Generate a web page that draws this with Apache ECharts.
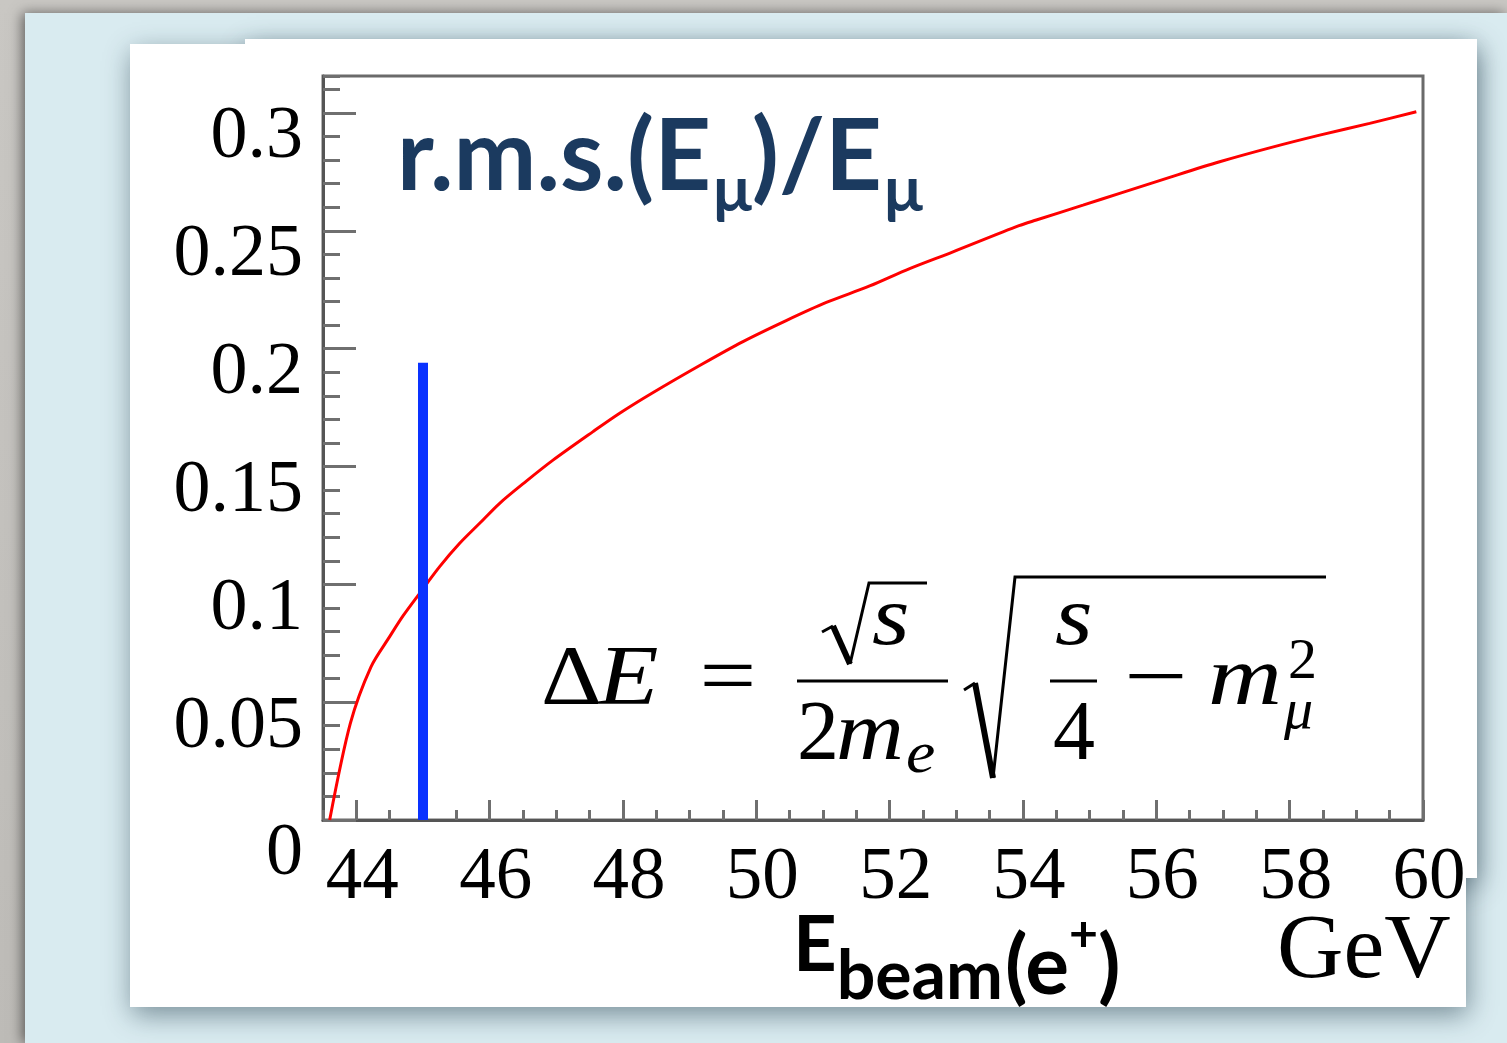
<!DOCTYPE html>
<html>
<head>
<meta charset="utf-8">
<title>r.m.s.(Eμ)/Eμ vs beam energy</title>
<script src="https://cdn.jsdelivr.net/npm/echarts@6/dist/echarts.min.js"></script>
<style>
  html, body { margin: 0; padding: 0; background: #c3c1bd; }
  #chart { width: 1507px; height: 1043px; }
</style>
</head>
<body>
<div id="chart"></div>
<script>
// Positron beam energy (GeV) and relative muon-energy spread
const beamEnergy = [43.6, 43.91, 44.22, 44.5, 44.7, 44.95, 45.25, 45.55, 45.85, 46.15,
  46.55, 46.95, 47.55, 47.95, 48.44, 49.19, 49.8, 50.44,
  51.05, 51.7, 52.3, 52.95, 53.94, 54.2, 54.9, 55.45, 56.2, 56.95,
  57.7, 58.45, 59.2, 59.9];
const rmsRatio = [0, 0.041, 0.065, 0.0778, 0.0866, 0.0962, 0.1075, 0.1174, 0.1259, 0.1344,
  0.1438, 0.1527, 0.1648, 0.1726, 0.1812, 0.1935, 0.203, 0.2118,
  0.2196, 0.2266, 0.234, 0.2411, 0.2522, 0.2546, 0.2609, 0.2659, 0.2727, 0.2793,
  0.2852, 0.2906, 0.2956, 0.3005];

// Working point marker (45 GeV)
const markerEnergy = [45, 45];
const markerRms = [0, 0.194];

// Axis ranges and tick labels
const xRange = [43.5, 60];
const yRange = [0, 0.3157];
const xMajorTicks = [44, 46, 48, 50, 52, 54, 56, 58, 60];
const xTickLabels = ['44', '46', '48', '50', '52', '54', '56', '58', '60'];
const yMajorTicks = [0, 0.05, 0.1, 0.15, 0.2, 0.25, 0.3];
const yTickLabels = ['0', '0.05', '0.1', '0.15', '0.2', '0.25', '0.3'];

const serif = '"Liberation Serif", "DejaVu Serif", serif';
const sans = 'Lato, "Open Sans", sans-serif';
const navy = '#1b3a5f';

function labelFor(ticks, labels, v) {
  for (let i = 0; i < ticks.length; i++) {
    if (Math.abs(ticks[i] - v) < 1e-9) return labels[i];
  }
  return '';
}

const measureCtx = document.createElement('canvas').getContext('2d');
function fontOf(o) {
  return (o.italic ? 'italic ' : '') + (o.bold ? 'bold ' : '') + o.size + 'px ' + (o.family || serif);
}
function textWidth(o) {
  measureCtx.font = fontOf(o);
  return measureCtx.measureText(o.text).width * (o.sx || 1);
}

// Text placed by its alphabetic baseline
function txt(text, x, baseline, size, opt) {
  opt = Object.assign({}, opt || {});
  opt.size = size;
  const mid = opt.mid != null ? opt.mid : 0.27;
  const y = baseline - mid * size;
  const el = {
    type: 'text', z: 100, silent: true,
    style: {
      text: text, x: x, y: y,
      font: fontOf(opt),
      fill: opt.color || '#000',
      align: opt.align || 'left', verticalAlign: 'middle',
      textAlign: opt.align || 'left', textVerticalAlign: 'middle'
    }
  };
  if (opt.sx) { el.scaleX = opt.sx; el.originX = x; el.originY = y; }
  return el;
}
// A run of text pieces laid out left to right, each on its own baseline
function row(x0, pieces) {
  let x = x0;
  return pieces.map(function (p) {
    const el = txt(p.text, x, p.baseline, p.size, p);
    x += textWidth(p) + (p.gap || 0);
    return el;
  });
}
function bar(x1, x2, y, w) {
  return { type: 'rect', z: 100, silent: true, shape: { x: x1, y: y - w / 2, width: x2 - x1, height: w }, style: { fill: '#000' } };
}
function stroke(points, w) {
  return { type: 'polyline', z: 100, silent: true, shape: { points: points }, style: { stroke: '#000', lineWidth: w, fill: null, lineJoin: 'miter' } };
}
function panel(x, y, w, h, shadow) {
  const st = { fill: '#ffffff' };
  if (shadow) {
    st.shadowBlur = 26; st.shadowColor = 'rgba(40,65,80,0.55)';
    st.shadowOffsetX = 2; st.shadowOffsetY = 8;
  }
  return { type: 'rect', z: shadow ? -90 : -85, silent: true, shape: { x: x, y: y, width: w, height: h }, style: st };
}

const graphics = [
  // backdrop
  { type: 'rect', z: -100, silent: true, shape: { x: 0, y: 0, width: 1507, height: 1043 },
    style: { fill: new echarts.graphic.LinearGradient(0, 0, 0, 1, [
      { offset: 0, color: '#c9c7c3' }, { offset: 1, color: '#bdbbb7' }]) } },
  { type: 'rect', z: -95, silent: true, shape: { x: 25, y: 13, width: 1482, height: 1030 },
    style: { fill: '#d9ebf0', shadowBlur: 12, shadowColor: 'rgba(0,0,0,0.5)', shadowOffsetX: -3 } },
  // white sheets
  panel(130, 44, 1336, 963, true),
  panel(245, 39, 1232, 839, true),
  panel(130, 44, 1336, 963, false),
  panel(245, 39, 1232, 839, false)
].concat(
  // title: r.m.s.(E_μ)/E_μ
  row(397, [
    { text: 'r.m.s.(E', size: 99, baseline: 185, family: sans, bold: true, color: navy, gap: 2 },
    { text: 'μ', size: 64, baseline: 208, family: sans, bold: true, color: navy, gap: 0 },
    { text: ')/E', size: 99, baseline: 185, family: sans, bold: true, color: navy, gap: 2 },
    { text: 'μ', size: 64, baseline: 208, family: sans, bold: true, color: navy }
  ]),
  // x axis title: E_beam(e+)  GeV
  row(793, [
    { text: 'E', size: 76, baseline: 967, family: sans, bold: true },
    { text: 'beam', size: 68, baseline: 995, family: sans, bold: true, gap: 2 },
    { text: '(e', size: 82, baseline: 990, family: sans, bold: true },
    { text: '+', size: 50, baseline: 948, family: sans, bold: true },
    { text: ')', size: 82, baseline: 990, family: sans, bold: true }
  ]),
  [
    txt('GeV', 1277, 978, 92),

    // ΔE = √s / (2 m_e) · √( s/4 − m_μ² )
    txt('Δ', 541, 705, 84, { sx: 1.12 }),
    txt('E', 598, 705, 84, { italic: true, sx: 1.18 }),
    txt('=', 728, 705, 84, { align: 'center', sx: 1.2 }),
    stroke([[822, 632], [833, 626]], 3),
    stroke([[833, 626], [850, 664]], 6),
    stroke([[850, 664], [869, 583], [927, 583]], 3),
    txt('s', 872, 645, 84, { italic: true, sx: 1.15 }),
    bar(797, 948, 681, 3),
    txt('2', 797, 760, 84),
    txt('m', 836, 760, 84, { italic: true, sx: 1.12 }),
    txt('e', 906, 772, 60, { italic: true, sx: 1.1 }),
    stroke([[964, 690], [975, 683]], 3),
    stroke([[975, 683], [993, 778]], 6),
    stroke([[993, 778], [1015, 577], [1326, 577]], 3),
    txt('s', 1055, 645, 84, { italic: true, sx: 1.15 }),
    bar(1050, 1097, 681, 3),
    txt('4', 1053, 760, 84),
    txt('\u2212', 1156, 705, 84, { align: 'center', sx: 1.35 }),
    txt('m', 1208, 705, 84, { italic: true, sx: 1.22 }),
    txt('2', 1288, 678, 58),
    txt('μ', 1284, 728, 58, { italic: true })
  ]
);

const chart = echarts.init(document.getElementById('chart'), null, { renderer: 'canvas' });

const axisLineStyle = { show: true, lineStyle: { color: '#555', width: 3 } };
const tickStyle = { color: '#6f6f6f', width: 3 };

chart.setOption({
  animation: false,
  backgroundColor: 'transparent',
  graphic: { elements: graphics },
  grid: {
    left: 323, top: 76, width: 1100, height: 744,
    containLabel: false, outerBoundsMode: 'none',
    show: true, borderColor: '#6a6a6a', borderWidth: 3, backgroundColor: 'transparent'
  },
  xAxis: [
    {
      type: 'value', min: xRange[0], max: xRange[1], interval: 0.5,
      axisLine: axisLineStyle,
      axisTick: { show: true, inside: true, length: 10, lineStyle: tickStyle },
      axisLabel: { show: false },
      splitLine: { show: false }
    },
    {
      type: 'value', min: xRange[0], max: xRange[1], position: 'bottom', offset: 0,
      axisLine: { show: false },
      axisTick: { show: true, inside: true, length: 20, customValues: xMajorTicks, lineStyle: tickStyle },
      axisLabel: {
        show: true, customValues: xMajorTicks, margin: 22,
        fontFamily: serif, fontSize: 73, color: '#000', padding: [0, 0, 0, 12],
        formatter: function (v) { return labelFor(xMajorTicks, xTickLabels, v); }
      },
      splitLine: { show: false }
    }
  ],
  yAxis: [
    {
      type: 'value', min: yRange[0], max: yRange[1], interval: 0.01,
      axisLine: axisLineStyle,
      axisTick: { show: true, inside: true, length: 17, lineStyle: tickStyle },
      axisLabel: { show: false },
      splitLine: { show: false }
    },
    {
      type: 'value', min: yRange[0], max: yRange[1], position: 'left', offset: 0,
      axisLine: { show: false },
      axisTick: { show: true, inside: true, length: 33, customValues: yMajorTicks, lineStyle: tickStyle },
      axisLabel: {
        show: true, customValues: yMajorTicks, margin: 20,
        fontFamily: serif, fontSize: 74, color: '#000',
        formatter: function (v) {
          const s = labelFor(yMajorTicks, yTickLabels, v);
          return v === 0 ? '{z|' + s + '}' : '{n|' + s + '}';
        },
        rich: {
          n: { fontFamily: serif, fontSize: 74, color: '#000', padding: [50, 0, 0, 0] },
          z: { fontFamily: serif, fontSize: 74, color: '#000', padding: [70, 0, 0, 0] }
        }
      },
      splitLine: { show: false }
    }
  ],
  series: [
    {
      type: 'line', xAxisIndex: 0, yAxisIndex: 0, z: 3,
      data: beamEnergy.map(function (e, i) { return [e, rmsRatio[i]]; }),
      showSymbol: false, smooth: 0.3,
      lineStyle: { color: '#ff0000', width: 3 }
    },
    {
      type: 'line', xAxisIndex: 0, yAxisIndex: 0, z: 4,
      data: markerEnergy.map(function (e, i) { return [e, markerRms[i]]; }),
      showSymbol: false,
      lineStyle: { color: '#0a32ff', width: 10, cap: 'butt' }
    }
  ]
});
</script>
</body>
</html>
